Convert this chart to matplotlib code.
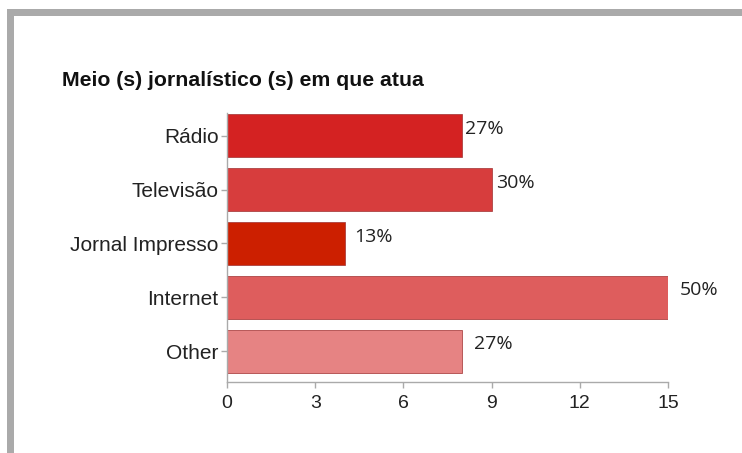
import matplotlib.pyplot as plt
from matplotlib.patches import Rectangle

# Data
categories = ['Rádio', 'Televisão', 'Jornal Impresso', 'Internet', 'Other']
counts = [8, 9, 4, 15, 8]
percent_labels = ['27%', '30%', '13%', '50%', '27%']
bar_colors = ['#D42222', '#D73D3D', '#CC1F00', '#DE5D5D', '#E68383']
label_pad = [3, 4, 10, 12, 12]   # gap (px) between bar end and label
x_ticks = [0, 3, 6, 9, 12, 15]

fig = plt.figure(figsize=(7.42, 4.53), dpi=100)
fig.patch.set_facecolor('white')

# gray frame (top and left edges of the screenshot)
fig.patches.append(Rectangle((7 / 742, 0), 7 / 742, 443 / 453, transform=fig.transFigure,
                             facecolor='#aaaaaa', edgecolor='none'))
fig.patches.append(Rectangle((7 / 742, 437 / 453), 735 / 742, 7 / 453, transform=fig.transFigure,
                             facecolor='#aaaaaa', edgecolor='none'))

ax = fig.add_axes([227 / 742, 71 / 453, 441 / 742, 269 / 453])

y = list(range(len(categories)))
ax.barh(y, counts, height=0.8, color=bar_colors, edgecolor='#a03030', linewidth=0.5)

for yi, c, lab, pad in zip(y, counts, percent_labels, label_pad):
    ax.annotate(lab, (c, yi), xytext=(pad * 0.72, 5), textcoords='offset points',
                ha='left', va='center', fontsize=14, family='Open Sans', color='#222222')

ax.set_ylim(len(categories) - 1 + 0.57, -0.42)
ax.set_xlim(0, 15)
ax.set_xticks(x_ticks)
ax.set_yticks(y)
ax.set_yticklabels(categories)

for s in ['top', 'right']:
    ax.spines[s].set_visible(False)
for s in ['left', 'bottom']:
    ax.spines[s].set_color('#aaaaaa')
    ax.spines[s].set_linewidth(1)

ax.tick_params(axis='both', colors='#aaaaaa', length=4, width=1, labelcolor='#222222')
ax.tick_params(axis='y', pad=2, labelsize=15)
ax.tick_params(axis='x', pad=5, labelsize=14)
for t in ax.get_xticklabels() + ax.get_yticklabels():
    t.set_family('Liberation Sans')

fig.text(62 / 742, 1 - 80 / 453, 'Meio (s) jornalístico (s) em que atua',
         family='Liberation Sans', fontweight='bold',
         fontsize=15.3, va='center', ha='left', color='#111111')

fig.savefig('out.png', dpi=100)
